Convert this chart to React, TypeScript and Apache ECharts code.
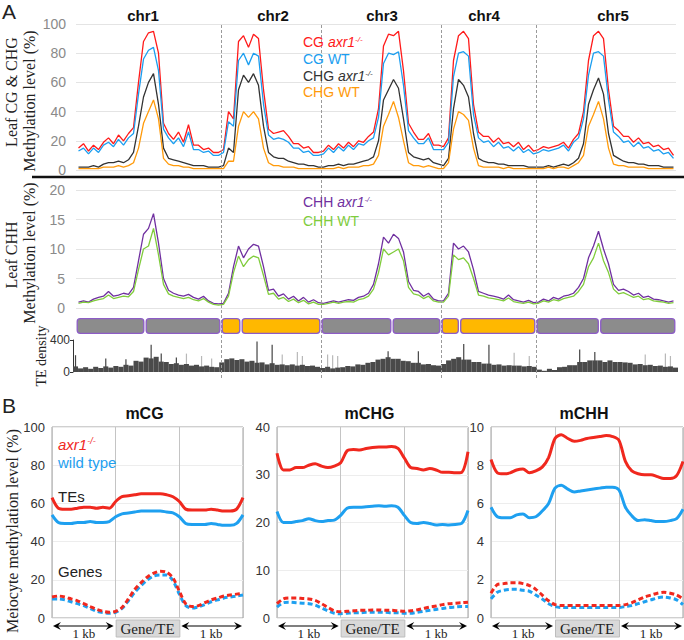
import React, { useEffect, useRef } from "react";
import * as echarts from "echarts";

// ================= DATA: panel A (genome-wide, bins of equal width) =================
const CHR_NAMES = ["chr1", "chr2", "chr3", "chr4", "chr5"];
const CHR_BINS = [29, 20, 24, 19, 28];
const CENTROMERE_BIN = [13.8, 4, 14.2, 3.7, 12.7];
const CHR_ARM_KIND = ["gray", "orange", "gray", "orange", "gray"];

const CG_AXR1 = [
  15, 18, 13, 17, 14, 19, 22, 18, 24, 20, 25, 29, 60, 88, 94, 95, 80, 32, 25, 21, 26, 19, 31, 17, 17, 14, 15, 12, 12,
  14, 40, 35, 88, 92, 84, 93, 90, 55, 28, 25, 26, 27, 23, 18, 18, 15, 16, 12, 12,
  13, 17, 14, 18, 15, 19, 16, 20, 19, 23, 26, 42, 85, 93, 92, 95, 68, 32, 26, 21, 21, 25, 17, 17,
  16, 22, 75, 92, 95, 90, 45, 26, 23, 23, 19, 22, 18, 19, 16, 19, 14, 17, 13,
  14, 16, 15, 16, 17, 19, 15, 21, 25, 40, 75, 92, 95, 90, 55, 30, 27, 23, 23, 19, 22, 18, 19, 16, 17, 14, 15, 10,
];
const CG_WT = [
  13, 15, 11, 15, 12, 17, 19, 16, 21, 17, 22, 25, 52, 76, 82, 84, 68, 28, 22, 18, 22, 16, 26, 14, 14, 12, 13, 10, 10,
  12, 33, 30, 75, 80, 72, 80, 78, 45, 24, 21, 22, 21, 19, 15, 15, 12, 13, 10, 10,
  11, 15, 12, 16, 13, 17, 14, 18, 17, 20, 22, 36, 73, 80, 79, 81, 58, 27, 22, 18, 18, 22, 14, 14,
  14, 19, 64, 80, 81, 78, 38, 22, 19, 20, 16, 19, 15, 16, 13, 16, 12, 14, 11,
  12, 14, 13, 14, 15, 17, 13, 19, 22, 35, 65, 80, 81, 78, 48, 26, 23, 19, 20, 16, 19, 15, 16, 13, 14, 11, 12, 8,
];
const CHG_AXR1 = [
  2, 2, 2, 3, 2, 4, 5, 5, 6, 5, 7, 12, 30, 50, 60, 66, 45, 15, 8, 7, 6, 5, 4, 3, 3, 3, 2, 2, 2,
  3, 15, 12, 55, 65, 60, 66, 58, 30, 12, 9, 8, 8, 6, 5, 4, 4, 3, 3, 2,
  2, 3, 3, 4, 3, 4, 4, 5, 6, 7, 9, 20, 48, 55, 62, 56, 35, 12, 9, 8, 7, 8, 5, 4,
  3, 8, 42, 62, 58, 50, 25, 8, 6, 5, 5, 4, 4, 3, 3, 3, 3, 2, 2,
  2, 2, 3, 2, 3, 4, 3, 5, 8, 18, 45, 55, 63, 52, 25, 10, 8, 6, 5, 5, 4, 4, 3, 3, 3, 2, 2, 2,
];
const CHG_WT = [
  1, 1, 1, 1, 1, 2, 2, 2, 3, 2, 3, 5, 15, 32, 40, 48, 35, 8, 4, 3, 3, 2, 2, 1, 1, 1, 1, 1, 1,
  1, 6, 6, 30, 40, 36, 40, 35, 15, 5, 3, 3, 2, 2, 2, 1, 1, 1, 1, 1,
  1, 1, 1, 2, 1, 2, 2, 2, 3, 3, 4, 10, 30, 38, 47, 36, 20, 5, 3, 3, 2, 3, 2, 1,
  1, 5, 28, 40, 38, 34, 15, 3, 2, 2, 2, 2, 1, 2, 1, 1, 1, 1, 1,
  1, 1, 2, 1, 2, 2, 1, 3, 5, 10, 30, 38, 47, 35, 15, 4, 3, 3, 2, 2, 2, 2, 1, 1, 1, 1, 1, 1,
];
const CHH_AXR1 = [
  1.0, 1.2, 1.0, 1.5, 1.8, 2.0, 2.8, 2.0, 2.2, 2.5, 2.3, 3.5, 8.0, 12.5, 13.5, 16.0, 11.0, 5.0, 3.0, 2.5, 2.2, 2.0, 2.3, 1.8, 1.5, 2.0, 1.2, 0.8, 0.7,
  0.8, 2.5, 7.0, 10.5, 8.5, 10.0, 10.8, 10.5, 7.0, 3.0, 3.2, 2.0, 2.4, 1.5, 2.0, 1.2, 1.8, 1.0, 1.4, 0.9,
  0.8, 1.0, 1.2, 1.0, 1.2, 1.4, 1.3, 1.8, 2.0, 2.5, 4.0, 7.5, 12.0, 11.0, 12.5, 11.8, 9.5, 4.5, 3.0, 2.8, 2.0, 2.5, 1.5, 1.2,
  1.2, 2.5, 11.0, 10.0, 10.5, 9.5, 6.5, 2.8, 2.5, 2.2, 2.0, 1.8, 1.5, 2.2, 1.4, 1.2, 1.0, 1.3, 0.9,
  1.0, 1.5, 1.2, 1.8, 1.5, 2.0, 2.2, 2.5, 3.5, 5.0, 8.5, 10.5, 13.0, 10.0, 7.5, 4.0, 3.0, 3.2, 2.8, 2.2, 2.5, 1.8, 2.0, 1.5, 1.4, 1.2, 1.0, 1.2,
];
const CHH_WT = [
  0.8, 1.0, 0.9, 1.2, 1.4, 1.6, 2.2, 1.6, 1.8, 2.0, 1.9, 2.8, 6.5, 10.0, 10.5, 13.5, 9.0, 4.0, 2.4, 2.0, 1.8, 1.6, 1.8, 1.4, 1.2, 1.6, 1.0, 0.6, 0.5,
  0.6, 2.0, 6.0, 8.8, 7.0, 8.2, 8.8, 8.5, 5.5, 2.3, 2.5, 1.5, 1.8, 1.1, 1.5, 0.9, 1.3, 0.7, 1.0, 0.6,
  0.6, 0.8, 1.0, 0.8, 1.0, 1.1, 1.0, 1.4, 1.6, 2.0, 3.2, 6.0, 10.0, 9.0, 9.5, 10.0, 8.0, 3.5, 2.4, 2.2, 1.6, 2.0, 1.2, 1.0,
  1.0, 2.0, 9.0, 8.2, 8.5, 7.5, 5.0, 2.2, 2.0, 1.7, 1.6, 1.4, 1.2, 1.7, 1.1, 0.9, 0.8, 1.0, 0.7,
  0.8, 1.2, 1.0, 1.4, 1.2, 1.6, 1.8, 2.0, 2.8, 4.0, 7.0, 8.5, 11.0, 8.0, 6.0, 3.2, 2.4, 2.6, 2.2, 1.8, 2.0, 1.4, 1.6, 1.2, 1.1, 1.0, 0.8, 0.9,
];
const TE_DENSITY = [
  70, 45, 60, 40, 65, 50, 70, 55, 75, 65, 90, 80, 140, 130, 180, 170, 190, 130, 125, 100, 110, 90, 100, 80, 90, 70, 80, 65, 60,
  120, 160, 170, 150, 160, 130, 140, 115, 120, 95, 110, 90, 95, 85, 95, 80, 90, 75, 80, 65,
  50, 65, 45, 55, 60, 75, 70, 95, 90, 115, 125, 155, 165, 185, 165, 165, 140, 135, 115, 115, 95, 100, 85, 80,
  100, 145, 165, 185, 155, 155, 125, 125, 105, 105, 90, 95, 80, 85, 80, 80, 70, 75, 65,
  30, 15, 40, 25, 60, 65, 85, 85, 125, 125, 145, 145, 145, 125, 145, 125, 125, 120, 115, 95, 100, 85, 90, 75, 80, 65, 70, 55,
];
// [bin, value] of isolated tall TE-density peaks
const TE_DARK_PEAKS = [[0, 210], [6, 170], [10, 160], [15, 340], [17, 230], [20, 180], [36, 380], [39, 340], [62, 260], [68, 260], [77, 350], [82, 340], [100, 280], [103, 250]];
const TE_LIGHT_PEAKS = [[22, 230], [25, 200], [27, 170], [41, 220], [44, 250], [45, 200], [50, 220], [51, 210], [52, 200], [87, 240], [90, 200], [113, 220], [117, 230], [118, 200]];

// ================= DATA: panel B (metaplots, 1 kb | Gene/TE | 1 kb) =================
const CG_TE_AXR1 = [63, 57.5, 57, 57, 57.5, 58, 58, 57.5, 58, 57.5, 61, 63.5, 64, 64.5, 65, 65, 65, 65, 64.5, 63.5, 61, 57, 56.5, 56.5, 56.5, 57, 56.5, 56, 56, 57, 63];
const CG_TE_WT = [54, 50, 49.5, 49.5, 50, 50, 50.5, 50, 50, 50.5, 53, 54.5, 55, 55.5, 56, 56, 56, 56, 55.5, 55, 53, 49.5, 49, 49, 49, 49.5, 49, 48.5, 48.5, 49.5, 54];
const CG_GENE_AXR1 = [11, 11.5, 11, 10, 9, 7.5, 6, 4.5, 3.5, 3, 3.5, 5.5, 10, 15, 18.5, 21.5, 23.5, 24.5, 24, 21, 14, 7.5, 6, 6.5, 8, 9.5, 10.5, 11.5, 12, 12.5, 13];
const CG_GENE_WT = [10, 10, 9.5, 8.5, 7.5, 6.5, 5, 3.5, 2.8, 2.5, 3, 5, 9, 13.5, 17, 20, 22, 22.5, 22.5, 19.5, 12.5, 6.5, 5.2, 5.8, 7, 8.5, 9.5, 10.5, 11, 11.5, 12];
const CHG_TE_AXR1 = [34.5, 31, 31, 31.5, 31.5, 32, 32.3, 31.8, 31.5, 31.8, 32.5, 35, 35.3, 35.2, 35.5, 35.7, 35.8, 35.8, 35.9, 35.5, 33.5, 31.5, 31.3, 31, 31.3, 31, 30.5, 30.5, 30.4, 30.5, 34.8];
const CHG_TE_WT = [22.3, 20, 20, 20.2, 20.4, 20.8, 20.4, 20.2, 20.4, 20.5, 21.5, 23, 23.2, 23.2, 23.3, 23.4, 23.5, 23.4, 23.5, 23.2, 21.5, 20, 19.8, 20, 19.8, 19.5, 19.6, 19.5, 19.6, 19.8, 22.5];
const CHG_GENE_AXR1 = [3.0, 4.0, 4.2, 4.2, 4.1, 4.0, 3.7, 3.0, 2.2, 1.5, 1.3, 1.4, 1.5, 1.6, 1.6, 1.7, 1.7, 1.6, 1.6, 1.5, 1.4, 1.5, 1.7, 2.0, 2.3, 2.5, 2.8, 3.0, 3.1, 3.2, 3.3];
const CHG_GENE_WT = [2.3, 3.2, 3.3, 3.2, 3.1, 3.0, 2.7, 2.1, 1.5, 1.0, 0.9, 1.0, 1.1, 1.1, 1.2, 1.2, 1.2, 1.2, 1.1, 1.1, 1.0, 1.0, 1.2, 1.4, 1.6, 1.8, 2.0, 2.2, 2.3, 2.4, 2.4];
const CHH_TE_AXR1 = [8.3, 7.6, 7.55, 7.6, 7.75, 7.8, 7.6, 7.7, 7.9, 8.4, 9.4, 9.6, 9.4, 9.25, 9.3, 9.4, 9.45, 9.5, 9.55, 9.5, 9.3, 8.2, 7.7, 7.55, 7.5, 7.5, 7.4, 7.3, 7.3, 7.45, 8.2];
const CHH_TE_WT = [5.8, 5.3, 5.25, 5.25, 5.4, 5.45, 5.25, 5.3, 5.6, 6.0, 6.8, 6.95, 6.75, 6.6, 6.65, 6.7, 6.75, 6.8, 6.85, 6.85, 6.7, 5.8, 5.35, 5.1, 5.15, 5.1, 5.05, 5.05, 5.1, 5.2, 5.7];
const CHH_GENE_AXR1 = [1.3, 1.75, 1.8, 1.85, 1.85, 1.8, 1.7, 1.5, 1.2, 0.9, 0.7, 0.65, 0.65, 0.65, 0.65, 0.65, 0.65, 0.65, 0.65, 0.65, 0.65, 0.7, 0.8, 0.95, 1.1, 1.2, 1.3, 1.35, 1.3, 1.2, 1.0];
const CHH_GENE_WT = [1.0, 1.35, 1.45, 1.5, 1.5, 1.45, 1.4, 1.2, 1.0, 0.75, 0.6, 0.55, 0.55, 0.55, 0.55, 0.55, 0.55, 0.55, 0.55, 0.55, 0.55, 0.6, 0.65, 0.75, 0.85, 0.95, 1.05, 1.1, 1.05, 0.95, 0.7];

const B_TITLES = ["mCG", "mCHG", "mCHH"];
const B_YMAX = [100, 40, 10];
const B_YSTEP = [20, 10, 2];
const B_SEGMENT_LABELS = ["1 kb", "Gene/TE", "1 kb"];

// ================= STYLE / LAYOUT =================
const SANS = "'Liberation Sans', Arial, Helvetica, sans-serif";
const SERIF = "'Liberation Serif', 'Times New Roman', Times, serif";
const C_RED = "#ff1a1a";
const C_BLUE = "#1b9ef0";
const C_BLACK = "#333333";
const C_ORANGE = "#ff9a0a";
const C_PURPLE = "#7030a0";
const C_GREEN = "#80cc3c";
const B_RED = "#f0281e";
const B_BLUE = "#1ea0f0";
const ARM_COLORS: Record<string, string> = { gray: "#8c8c8c", orange: "#ffb800" };

const GA = { left: 76, top: 24, width: 600, height: 146 };
const GC = { left: 76, top: 190, width: 600, height: 118 };
const GK = { left: 76, top: 318, width: 600, height: 16 };
const GT = { left: 73, top: 340, width: 605, height: 32 };
const GO = { left: 76, top: 23, width: 600, height: 355 };
const GB = [
  { left: 52, top: 427, width: 191, height: 191 },
  { left: 277, top: 427, width: 191, height: 191 },
  { left: 491, top: 427, width: 192, height: 191 },
];
const CHR_LABEL_X = [143, 273, 382, 484, 613];

function buildOption() {
  const total = CHR_BINS.reduce((a, b) => a + b, 0);
  const starts: number[] = [];
  let acc = 0;
  for (const b of CHR_BINS) { starts.push(acc); acc += b; }
  const boundaries = starts.slice(1);
  const xy = (arr: number[]) => arr.map((v, i) => [i + 0.5, v]);
  const prof = (arr: number[]) => arr.map((v, i) => [i, v]);

  const arms: any[] = [];
  CHR_BINS.forEach((b, k) => {
    const s = starts[k];
    const c = s + CENTROMERE_BIN[k];
    const e = s + b;
    const col = ARM_COLORS[CHR_ARM_KIND[k]];
    arms.push({ value: [s, c], itemStyle: { color: col } });
    arms.push({ value: [c, e], itemStyle: { color: col } });
  });

  const peaks: any[] = new Array(total).fill(0);
  TE_LIGHT_PEAKS.forEach(([i, v]) => { peaks[i] = { value: v, itemStyle: { color: "#b8b8b8" } }; });
  TE_DARK_PEAKS.forEach(([i, v]) => { peaks[i] = { value: v, itemStyle: { color: "#444" } }; });
  const cats = Array.from({ length: total }, (_, i) => String(i));

  const hiddenValX = (gi: number) => ({ type: "value", gridIndex: gi, min: 0, max: total, show: false });
  const mainLine = (data: number[], color: string, xi: number, yi: number, z: number) => ({
    type: "line", xAxisIndex: xi, yAxisIndex: yi, data: xy(data), symbol: "none", z,
    lineStyle: { color, width: 1.3 }, silent: true,
  });

  const grids: any[] = [GA, GC, GK, GT, GO, ...GB].map((g, i) => ({
    ...g, containLabel: false,
    show: i >= 5, borderColor: "#a0a0a0", borderWidth: 1, backgroundColor: "transparent",
  }));

  const xAxis: any[] = [
    hiddenValX(0), hiddenValX(1), hiddenValX(2),
    { type: "category", gridIndex: 3, data: cats, show: false },
    { type: "category", gridIndex: 3, data: cats, show: false },
    hiddenValX(4),
  ];
  GB.forEach((_, k) => {
    xAxis.push({
      type: "value", gridIndex: 5 + k, min: 0, max: 30, interval: 10,
      axisLine: { show: false }, axisTick: { show: false }, axisLabel: { show: false },
      splitLine: { show: true, lineStyle: { color: "#c4c4c4", width: 1 } },
    });
  });

  const yAxis: any[] = [
    {
      type: "value", gridIndex: 0, min: 0, max: 100, interval: 20,
      axisLine: { show: false }, axisTick: { show: false },
      axisLabel: { color: "#8a8a8a", fontSize: 14, margin: 10, fontFamily: SANS },
      splitLine: { lineStyle: { color: "#e4e4e4" } },
    },
    {
      type: "value", gridIndex: 1, min: 0, max: 20, interval: 5,
      axisLine: { show: false }, axisTick: { show: false },
      axisLabel: { color: "#8a8a8a", fontSize: 14, margin: 11, fontFamily: SANS },
      splitLine: { lineStyle: { color: "#e4e4e4" } },
    },
    { type: "value", gridIndex: 2, min: 0, max: 1, show: false },
    {
      type: "value", gridIndex: 3, min: 0, max: 400, interval: 400,
      axisLine: { show: true, lineStyle: { color: "#333", width: 1 } },
      axisTick: { show: true, length: 3, lineStyle: { color: "#333" } },
      axisLabel: { color: "#333", fontSize: 12, margin: 3, fontFamily: SANS },
      splitLine: { show: false },
    },
    { type: "value", gridIndex: 4, min: 0, max: 1, show: false },
  ];
  GB.forEach((_, k) => {
    yAxis.push({
      type: "value", gridIndex: 5 + k, min: 0, max: B_YMAX[k], interval: B_YSTEP[k],
      axisLine: { show: false }, axisTick: { show: false },
      axisLabel: { color: "#333", fontSize: 13, margin: 7, fontFamily: SANS },
      splitLine: { lineStyle: { color: "#ededed" } },
    });
  });

  const series: any[] = [
    mainLine(CG_AXR1, C_RED, 0, 0, 2),
    mainLine(CG_WT, C_BLUE, 0, 0, 3),
    mainLine(CHG_AXR1, C_BLACK, 0, 0, 4),
    mainLine(CHG_WT, C_ORANGE, 0, 0, 5),
    mainLine(CHH_AXR1, C_PURPLE, 1, 1, 2),
    mainLine(CHH_WT, C_GREEN, 1, 1, 3),
    {
      type: "custom", xAxisIndex: 2, yAxisIndex: 2, data: arms, z: 5, silent: true,
      encode: { x: [0, 1] },
      renderItem: (params: any, api: any) => {
        const a = api.coord([api.value(0), 1]);
        const b = api.coord([api.value(1), 0]);
        return {
          type: "rect",
          shape: { x: a[0] + 1.2, y: a[1] + 0.7, width: b[0] - a[0] - 2.4, height: b[1] - a[1] - 1.4, r: 3 },
          style: { fill: api.visual("color"), stroke: "#8d5cc6", lineWidth: 1.3 },
        };
      },
    },
    {
      type: "bar", xAxisIndex: 4, yAxisIndex: 3, data: peaks, barWidth: 1.2, z: 2, silent: true,
      itemStyle: { color: "#444" },
    },
    {
      type: "bar", xAxisIndex: 3, yAxisIndex: 3, data: TE_DENSITY, barCategoryGap: "0%", z: 3, silent: true,
      itemStyle: { color: "#4a4a4a" },
    },
    {
      type: "line", xAxisIndex: 5, yAxisIndex: 4, data: [[0, 0]], symbol: "none", z: 1, silent: true,
      lineStyle: { width: 0, opacity: 0 },
      markLine: {
        silent: true, symbol: ["none", "none"], label: { show: false },
        lineStyle: { type: [3, 2], color: "#9a9a9a", width: 1 },
        data: boundaries.map((b) => ({ xAxis: b })),
      },
    },
  ];

  const bSets = [
    [CG_TE_AXR1, CG_TE_WT, CG_GENE_AXR1, CG_GENE_WT],
    [CHG_TE_AXR1, CHG_TE_WT, CHG_GENE_AXR1, CHG_GENE_WT],
    [CHH_TE_AXR1, CHH_TE_WT, CHH_GENE_AXR1, CHH_GENE_WT],
  ];
  bSets.forEach((set, k) => {
    const [teA, teW, geA, geW] = set;
    const mk = (d: number[], color: string, dashed: boolean, z: number) => ({
      type: "line", xAxisIndex: 6 + k, yAxisIndex: 5 + k, data: prof(d), symbol: "none", smooth: 0.3, z, silent: true,
      lineStyle: { color, width: 3, type: dashed ? [5, 3] : "solid" },
    });
    series.push(mk(teA, B_RED, false, 3), mk(teW, B_BLUE, false, 3), mk(geW, B_BLUE, true, 3), mk(geA, B_RED, true, 4));
  });

  // ---------- graphic annotations ----------
  const g: any[] = [];
  const txt = (x: number, y: number, text: string, o: any = {}) => ({
    type: "text", x, y, z: 100, rotation: o.rotate ? Math.PI / 2 : 0,
    style: {
      text, fontFamily: o.family || SANS, fontSize: o.size || 14, fontWeight: o.weight || "normal",
      fontStyle: o.italic ? "italic" : "normal", fill: o.color || "#222",
      align: o.align || "left", verticalAlign: "middle",
    },
  });
  const axrText = (x: number, y: number, prefix: string, color: string, size: number) => {
    const rich: any = {
      a: { fontSize: size, fill: color, fontFamily: SANS },
      b: { fontSize: size, fill: color, fontFamily: SANS, fontStyle: "italic" },
      c: { fontSize: Math.round(size * 0.6), fill: color, fontFamily: SANS, fontStyle: "italic", verticalAlign: "top" },
    };
    const text = (prefix ? `{a|${prefix}}` : "") + "{b|axr1}{c|-/-}";
    return { type: "text", x, y, z: 100, style: { text, rich, align: "left", verticalAlign: "middle", fill: color, fontSize: size } };
  };

  g.push(txt(2, 11, "A", { size: 21 }));
  g.push(txt(2, 405, "B", { size: 21 }));
  CHR_NAMES.forEach((n, k) => g.push(txt(CHR_LABEL_X[k], 15, n, { size: 15, weight: "bold", align: "center", color: "#111" })));

  g.push(axrText(303, 42, "CG ", C_RED, 14));
  g.push(txt(303, 59, "CG WT", { color: C_BLUE, size: 14 }));
  g.push(axrText(303, 76, "CHG ", C_BLACK, 14));
  g.push(txt(303, 92, "CHG WT", { color: C_ORANGE, size: 14 }));
  g.push(axrText(303, 202, "CHH ", C_PURPLE, 14));
  g.push(txt(303, 221, "CHH WT", { color: C_GREEN, size: 14 }));

  g.push(txt(11, 92, "Leaf CG & CHG", { family: SERIF, size: 16, rotate: true, align: "center" }));
  g.push(txt(29, 101, "Methylation level (%)", { family: SERIF, size: 16, rotate: true, align: "center" }));
  g.push(txt(11, 255, "Leaf CHH", { family: SERIF, size: 16, rotate: true, align: "center" }));
  g.push(txt(29, 253, "Methylation level (%)", { family: SERIF, size: 16, rotate: true, align: "center" }));
  g.push(txt(41, 356, "TE density", { family: SERIF, size: 14, rotate: true, align: "center" }));
  g.push(txt(12, 531, "Meiocyte methylation level (%)", { family: SERIF, size: 16, rotate: true, align: "center" }));

  g.push({ type: "line", z: 50, shape: { x1: 32, y1: 177, x2: 684, y2: 177 }, style: { stroke: "#111", lineWidth: 2.6 } });

  // panel B annotations
  g.push(axrText(58, 444, "", B_RED, 15));
  g.push(txt(58, 462, "wild type", { color: B_BLUE, size: 15 }));
  g.push(txt(58, 496, "TEs", { size: 15 }));
  g.push(txt(58, 571, "Genes", { size: 15 }));

  const arrow = (x1: number, x2: number, y: number) => {
    g.push({ type: "line", z: 60, shape: { x1: x1 + 3, y1: y, x2: x2 - 3, y2: y }, style: { stroke: "#000", lineWidth: 1.2 } });
    g.push({ type: "polygon", z: 61, shape: { points: [[x1, y], [x1 + 8, y - 4], [x1 + 5, y], [x1 + 8, y + 4]] }, style: { fill: "#000" } });
    g.push({ type: "polygon", z: 61, shape: { points: [[x2, y], [x2 - 8, y - 4], [x2 - 5, y], [x2 - 8, y + 4]] }, style: { fill: "#000" } });
  };
  GB.forEach((gb, k) => {
    g.push(txt(gb.left + gb.width / 2 - 3, 413, B_TITLES[k], { size: 16, weight: "bold", align: "center", color: "#111" }));
    const seg = gb.width / 3;
    const y = 626;
    arrow(gb.left + 1, gb.left + seg - 2, y);
    arrow(gb.left + 2 * seg + 2, gb.left + gb.width - 1, y);
    g.push({ type: "rect", z: 60, shape: { x: gb.left + seg + 0.5, y: 620, width: seg, height: 17 }, style: { fill: "#d9d9d9", stroke: "#bdbdbd", lineWidth: 1 } });
    g.push(txt(gb.left + seg * 1.5, 629, B_SEGMENT_LABELS[1], { family: SERIF, size: 15, align: "center", color: "#222" }));
    g.push(txt(gb.left + seg * 0.5, 633.5, B_SEGMENT_LABELS[0], { family: SERIF, size: 13, align: "center", color: "#222" }));
    g.push(txt(gb.left + seg * 2.5, 633.5, B_SEGMENT_LABELS[2], { family: SERIF, size: 13, align: "center", color: "#222" }));
  });

  return {
    animation: false,
    backgroundColor: "#ffffff",
    textStyle: { fontFamily: SANS },
    grid: grids,
    xAxis,
    yAxis,
    series,
    graphic: { elements: g },
  };
}

export default function App() {
  const ref = useRef<HTMLDivElement>(null);
  useEffect(() => {
    if (!ref.current) return;
    const chart = echarts.init(ref.current, null, { renderer: "svg" });
    chart.setOption(buildOption() as any);
    return () => chart.dispose();
  }, []);
  return (
    <div
      ref={ref}
      style={{ position: "fixed", left: 0, top: 0, width: 684, height: 640, background: "#fff" }}
    />
  );
}
